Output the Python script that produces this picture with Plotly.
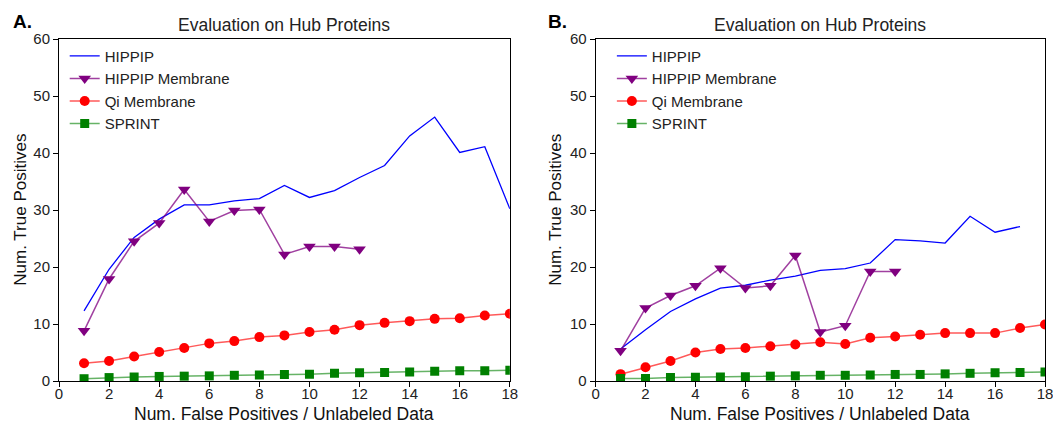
import plotly.graph_objects as go

x_vals = list(range(1, 19))

# Panel A
a_hippip = [12.3, 19.6, 25.2, 28.4, 30.9, 30.9, 31.6, 32.0, 34.3, 32.2, 33.4, 35.7, 37.8, 43.0, 46.3, 40.1, 41.1, 30.2]
a_hippip_mem = [8.8, 17.9, 24.5, 27.7, 33.6, 28.0, 29.9, 30.1, 22.2, 23.6, 23.6, 23.1]
a_qi_mem = [3.1, 3.5, 4.3, 5.1, 5.8, 6.6, 7.0, 7.7, 8.0, 8.6, 9.0, 9.8, 10.2, 10.5, 10.9, 11.0, 11.5, 11.8]
a_sprint = [0.4, 0.6, 0.7, 0.8, 0.85, 0.9, 1.0, 1.05, 1.15, 1.2, 1.35, 1.45, 1.5, 1.6, 1.7, 1.8, 1.8, 1.9]

# Panel B
b_hippip = [5.6, 9.0, 12.2, 14.4, 16.3, 16.8, 17.7, 18.4, 19.4, 19.7, 20.7, 24.8, 24.6, 24.2, 28.9, 26.1, 27.1]
b_hippip_mem = [5.3, 12.8, 15.0, 16.7, 19.8, 16.3, 16.7, 22.0, 8.6, 9.7, 19.2, 19.2]
b_qi_mem = [1.2, 2.4, 3.5, 5.0, 5.6, 5.8, 6.1, 6.4, 6.8, 6.5, 7.6, 7.8, 8.1, 8.4, 8.4, 8.4, 9.3, 9.9]
b_sprint = [0.45, 0.45, 0.6, 0.65, 0.7, 0.75, 0.85, 0.9, 1.0, 1.0, 1.05, 1.15, 1.15, 1.25, 1.35, 1.45, 1.5, 1.6]

series_names = ["HIPPIP", "HIPPIP Membrane", "Qi Membrane", "SPRINT"]
x_ticks = [0, 2, 4, 6, 8, 10, 12, 14, 16, 18]
y_ticks = [0, 10, 20, 30, 40, 50, 60]
panel_titles = ["Evaluation on Hub Proteins", "Evaluation on Hub Proteins"]
panel_labels = ["A.", "B."]
x_title = "Num. False Positives / Unlabeled Data"
y_title = "Num. True Positives"

FONT = "Liberation Sans, Arial, sans-serif"
W, H = 1061, 423
OFF = 8  # default page body margin in the browser
ML, MR, MT, MB = 59.3 - OFF, W - (1045.0 - OFF), 39.3 - OFF, H - (380.7 - OFF)
PW, PH = W - ML - MR, H - MT - MB


def px(xp):
    return (xp - OFF - ML) / PW


def py(yp):
    return (H - MB - (yp - OFF)) / PH


styles = [
    dict(mode="lines", line=dict(color="#0000ff", width=1.3)),
    dict(mode="lines+markers", line=dict(color="rgba(128,0,128,0.75)", width=1.5),
         marker=dict(symbol="triangle-down", size=11, color="#800080")),
    dict(mode="lines+markers", line=dict(color="rgba(255,0,0,0.65)", width=1.5),
         marker=dict(symbol="circle", size=10, color="#ff0000")),
    dict(mode="lines+markers", line=dict(color="rgba(0,128,0,0.6)", width=1.5),
         marker=dict(symbol="square", size=9, color="#008000")),
]

fig = go.Figure()

panels = [
    (["x", "y"], [a_hippip, a_hippip_mem, a_qi_mem, a_sprint], "legend"),
    (["x2", "y2"], [b_hippip, b_hippip_mem, b_qi_mem, b_sprint], "legend2"),
]

for (xa, ya), data, lg in panels:
    for name, ys, st in zip(series_names, data, styles):
        fig.add_trace(go.Scatter(
            x=x_vals[:len(ys)], y=ys, name=name, xaxis=xa, yaxis=ya,
            legend=lg, cliponaxis=True, **st))

xdoms = [[0, px(510.0)], [px(595.7), 1]]
ydom = [0, 1]

axis_common = dict(
    showgrid=False, zeroline=False, showline=True, linecolor="black", linewidth=1,
    mirror=True, ticks="outside", ticklen=5, tickwidth=1, tickcolor="black",
    automargin=False,
    tickfont=dict(family=FONT, size=15, color="#222222"),
)

legend_common = dict(xanchor="left", yanchor="top", bgcolor="rgba(0,0,0,0)",
                     font=dict(family=FONT, size=15, color="#222222"), tracegroupgap=0)

fig.update_layout(
    width=W, height=H,
    margin=dict(l=ML, r=MR, t=MT, b=MB, pad=0, autoexpand=False),
    paper_bgcolor="white", plot_bgcolor="white",
    font=dict(family=FONT, color="#222222"),
    xaxis=dict(domain=xdoms[0], range=[0, 18], tickvals=x_ticks, anchor="y",
               ticklabelstandoff=-6, **axis_common),
    yaxis=dict(domain=ydom, range=[0, 60], tickvals=y_ticks, anchor="x", **axis_common),
    xaxis2=dict(domain=xdoms[1], range=[0, 18], tickvals=x_ticks, anchor="y2",
                ticklabelstandoff=-6, **axis_common),
    yaxis2=dict(domain=ydom, range=[0, 60], tickvals=y_ticks, anchor="x2", **axis_common),
    legend=dict(x=px(65), y=py(40), **legend_common),
    legend2=dict(x=px(612), y=py(40), **legend_common),
    showlegend=True,
)

annos = []
for i in range(2):
    cx = (xdoms[i][0] + xdoms[i][1]) / 2
    annos.append(dict(text=panel_titles[i], x=cx, y=py(25.5), xref="paper", yref="paper",
                      showarrow=False, xanchor="center", yanchor="middle",
                      font=dict(family=FONT, size=17.5, color="#222222")))
    annos.append(dict(text=x_title, x=cx, y=py(414), xref="paper", yref="paper",
                      showarrow=False, xanchor="center", yanchor="middle",
                      font=dict(family=FONT, size=17.5, color="#111111")))
    ycx = [px(20), px(555)][i]
    annos.append(dict(text=y_title, x=ycx, y=0.5, xref="paper", yref="paper",
                      showarrow=False, xanchor="center", yanchor="middle", textangle=-90,
                      font=dict(family=FONT, size=17, color="#111111")))
    lx = [px(22.5), px(557.5)][i]
    annos.append(dict(text="<b>" + panel_labels[i] + "</b>", x=lx, y=py(21.5), xref="paper", yref="paper",
                      showarrow=False, xanchor="center", yanchor="middle",
                      font=dict(family=FONT, size=19, color="black")))
fig.update_layout(annotations=annos)

fig.write_html("out.html")
